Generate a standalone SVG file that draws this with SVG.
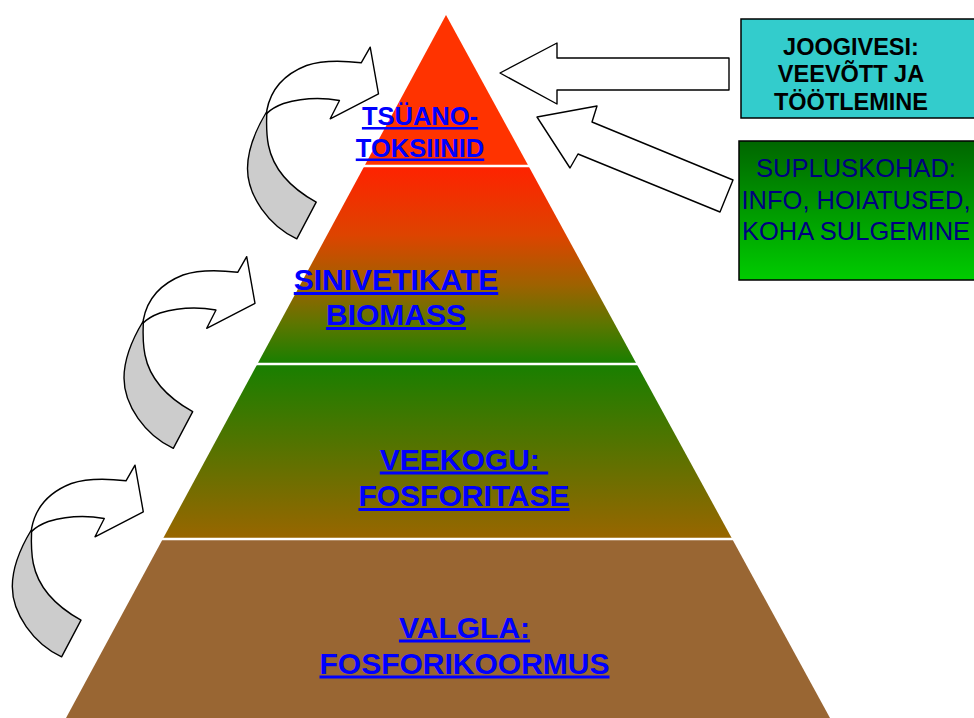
<svg xmlns="http://www.w3.org/2000/svg" xmlns:xlink="http://www.w3.org/1999/xlink" width="974" height="718" viewBox="0 0 974 718">
<defs>
<style>
.lbl{font-family:"Liberation Sans",Arial,sans-serif;font-weight:bold;font-size:30px;fill:#0000FF;text-anchor:middle;text-decoration:underline;text-decoration-thickness:3px}
.jv{font-family:"Liberation Sans",Arial,sans-serif;font-weight:bold;font-size:23.5px;fill:#000000;text-anchor:middle}
.sk{font-family:"Liberation Sans",Arial,sans-serif;font-size:25.5px;fill:#000080;text-anchor:middle}
.blk{fill:#FFFFFF;stroke:#000000;stroke-width:1.4;stroke-linejoin:round}
.gry{fill:#CCCCCC;stroke:#000000;stroke-width:1.4;stroke-linejoin:round}
.sep{stroke:#FFFFFF;stroke-width:2.5}
</style>
<linearGradient id="g2" x1="0" y1="0" x2="0" y2="1">
<stop offset="0" stop-color="#FF2200"/>
<stop offset="0.35" stop-color="#DD4400"/>
<stop offset="0.6" stop-color="#9E6200"/>
<stop offset="0.8" stop-color="#5C7600"/>
<stop offset="1" stop-color="#187F00"/>
</linearGradient>
<linearGradient id="g3" x1="0" y1="0" x2="0" y2="1">
<stop offset="0" stop-color="#187F00"/>
<stop offset="1" stop-color="#996600"/>
</linearGradient>
<linearGradient id="gbox" x1="0" y1="0" x2="0" y2="1">
<stop offset="0" stop-color="#006600"/>
<stop offset="1" stop-color="#00CC00"/>
</linearGradient>
<g id="curved">
<path class="gry" d="M143.3,321 C136,333 124,355 124,378 C124,405 145,435 173.3,448.3 L192.7,411.7 C170,399 150,380 145,355 C143,345 143,330 143.3,323 Z"/>
<path class="blk" d="M143.3,320 C147,300 160,284 183,275 C195,271 210,269 237.7,272.3 L246.7,256.7 L255,303.3 L206.7,328.3 L216,310 C200,307 180,307 160,313 C152,316 147,319 143.3,323 Z"/>
</g>
</defs>
<rect width="974" height="718" fill="#FFFFFF"/>

<g id="tier-tsuanotoksiinid">
<polygon points="446,15 528.5,166 364.4,166" fill="#FF3300"/>
<text class="lbl" x="420" y="125" style="font-size:25.5px">TSÜANO-</text>
<text class="lbl" x="420" y="156.5" style="font-size:25.5px">TOKSIINID</text>
</g>
<g id="tier-biomass">
<polygon points="364.4,166 528.5,166 636.6,364 257.4,364" fill="url(#g2)"/>
<text class="lbl" x="396" y="290">SINIVETIKATE</text>
<text class="lbl" x="396" y="325">BIOMASS</text>
</g>
<g id="tier-veekogu">
<polygon points="257.4,364 636.6,364 732.2,539 162.8,539" fill="url(#g3)"/>
<text class="lbl" x="464" y="469.5">VEEKOGU:&#160;</text>
<text class="lbl" x="464" y="506">FOSFORITASE</text>
</g>
<g id="tier-valgla">
<polygon points="162.8,539 732.2,539 830,718 66,718" fill="#996633"/>
<text class="lbl" x="464.5" y="637.5">VALGLA:</text>
<text class="lbl" x="464.5" y="673.5">FOSFORIKOORMUS</text>
</g>
<g id="separators">
<line class="sep" x1="360" y1="166" x2="532" y2="166"/>
<line class="sep" x1="254" y1="364" x2="640" y2="364"/>
<line class="sep" x1="159" y1="539" x2="736" y2="539"/>
</g>

<g id="box-joogivesi">
<rect x="741" y="19" width="240" height="99" fill="#33CCCC" stroke="#000000" stroke-width="1.5"/>
<text class="jv" x="851" y="55">JOOGIVESI:</text>
<text class="jv" x="851" y="82">VEEVÕTT JA</text>
<text class="jv" x="851" y="109.5">TÖÖTLEMINE</text>
</g>
<g id="box-supluskohad">
<rect x="739" y="141" width="242" height="139" fill="url(#gbox)" stroke="#000000" stroke-width="1.5"/>
<text class="sk" x="856" y="177">SUPLUSKOHAD:</text>
<text class="sk" x="856" y="209">INFO, HOIATUSED,</text>
<text class="sk" x="856" y="240">KOHA SULGEMINE</text>
</g>

<g id="connectors">
<polygon class="blk" points="500,73 557,43 557,58 729,58 729,90 557,90 557,104"/>
<polygon class="blk" points="537,117 597,106 592,122 733,180 720,212 578,154 570,168"/>
<use xlink:href="#curved" transform="translate(123.5,-209.5)"/>
<use xlink:href="#curved"/>
<use xlink:href="#curved" transform="translate(-111.7,208.5)"/>
</g>
</svg>
